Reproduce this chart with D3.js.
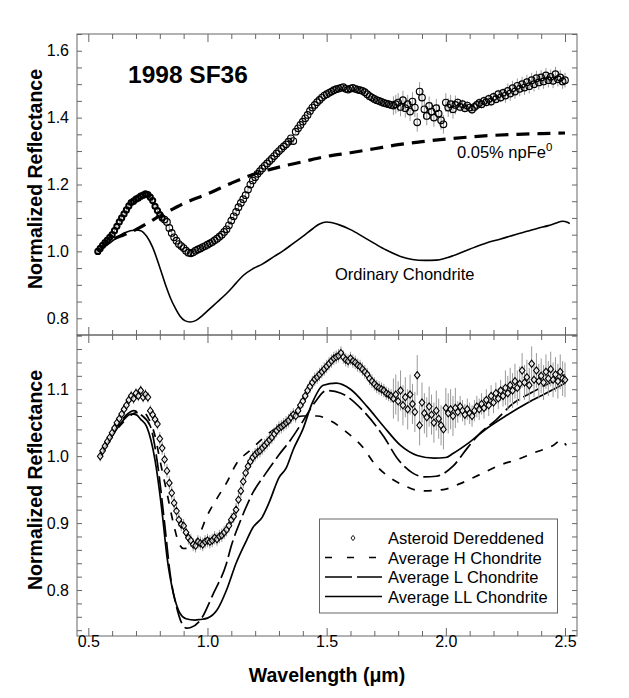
<!DOCTYPE html>
<html><head><meta charset="utf-8">
<script src="https://cdn.jsdelivr.net/npm/d3@7"></script>
<style>body{margin:0;background:#fff}svg{display:block;font-family:"Liberation Sans",Arial,Helvetica,sans-serif}</style>
</head><body><svg id="c" width="629" height="698"></svg>
<script>
// ---------- DATA ----------
const xTickLabels = [0.5, 1.0, 1.5, 2.0, 2.5];
const topYLabels = [0.8, 1.0, 1.2, 1.4, 1.6];
const botYLabels = [0.8, 0.9, 1.0, 1.1];

// Top panel: asteroid 1998 SF36 (wavelength µm, reflectance)
const topAsteroid = [[0.54,1.000],[0.55,1.009],[0.56,1.018],[0.57,1.026],[0.58,1.034],[0.59,1.042],[0.60,1.050],[0.61,1.062],[0.62,1.075],[0.63,1.088],[0.64,1.100],[0.65,1.112],[0.66,1.124],[0.67,1.136],[0.68,1.146],[0.69,1.150],[0.70,1.156],[0.71,1.160],[0.72,1.165],[0.73,1.168],[0.74,1.172],[0.75,1.170],[0.76,1.162],[0.77,1.152],[0.78,1.135],[0.79,1.122],[0.80,1.110],[0.81,1.100],[0.82,1.095],[0.83,1.088],[0.84,1.070],[0.85,1.055],[0.86,1.042],[0.87,1.032],[0.88,1.022],[0.89,1.016],[0.90,1.010],[0.91,1.002],[0.92,0.996],[0.93,0.994],[0.94,0.997],[0.95,1.002],[0.96,1.006],[0.97,1.009],[0.98,1.013],[0.99,1.016],[1.00,1.020],[1.01,1.024],[1.02,1.028],[1.03,1.033],[1.04,1.038],[1.05,1.044],[1.06,1.050],[1.07,1.058],[1.08,1.066],[1.09,1.078],[1.10,1.092],[1.11,1.105],[1.12,1.118],[1.13,1.132],[1.14,1.145],[1.15,1.156],[1.16,1.168],[1.17,1.185],[1.18,1.200],[1.19,1.212],[1.20,1.222],[1.21,1.232],[1.22,1.240],[1.23,1.248],[1.24,1.256],[1.25,1.263],[1.26,1.270],[1.27,1.277],[1.28,1.285],[1.29,1.293],[1.30,1.300],[1.31,1.307],[1.32,1.314],[1.33,1.320],[1.34,1.328],[1.35,1.338],[1.36,1.330],[1.37,1.358],[1.38,1.368],[1.39,1.378],[1.40,1.388],[1.41,1.398],[1.42,1.408],[1.43,1.420],[1.44,1.430],[1.45,1.438],[1.46,1.446],[1.47,1.453],[1.48,1.460],[1.49,1.466],[1.50,1.470],[1.51,1.474],[1.52,1.478],[1.53,1.482],[1.54,1.485],[1.55,1.487],[1.56,1.489],[1.57,1.491],[1.58,1.486],[1.59,1.484],[1.60,1.487],[1.61,1.489],[1.62,1.486],[1.63,1.484],[1.64,1.482],[1.65,1.480],[1.66,1.476],[1.67,1.470],[1.68,1.464],[1.69,1.460],[1.70,1.456],[1.71,1.452],[1.72,1.450],[1.73,1.447],[1.74,1.444],[1.75,1.442],[1.76,1.440],[1.77,1.438],[1.78,1.436],[1.79,1.440],[1.80,1.445],[1.81,1.432],[1.82,1.452],[1.83,1.428],[1.84,1.440],[1.85,1.418],[1.86,1.448],[1.87,1.430],[1.88,1.386],[1.89,1.478],[1.90,1.460],[1.91,1.425],[1.92,1.405],[1.93,1.435],[1.94,1.418],[1.95,1.400],[1.96,1.428],[1.97,1.412],[1.98,1.392],[1.99,1.380],[2.00,1.445],[2.01,1.430],[2.02,1.440],[2.03,1.425],[2.04,1.438],[2.05,1.445],[2.06,1.432],[2.07,1.440],[2.08,1.428],[2.09,1.436],[2.10,1.430],[2.11,1.424],[2.12,1.432],[2.13,1.438],[2.14,1.444],[2.15,1.440],[2.16,1.450],[2.17,1.446],[2.18,1.456],[2.19,1.448],[2.20,1.462],[2.21,1.455],[2.22,1.470],[2.23,1.460],[2.24,1.474],[2.25,1.466],[2.26,1.480],[2.27,1.472],[2.28,1.488],[2.29,1.478],[2.30,1.495],[2.31,1.486],[2.32,1.500],[2.33,1.490],[2.34,1.506],[2.35,1.494],[2.36,1.512],[2.37,1.500],[2.38,1.518],[2.39,1.505],[2.40,1.520],[2.41,1.508],[2.42,1.526],[2.43,1.512],[2.44,1.522],[2.45,1.510],[2.46,1.530],[2.47,1.515],[2.48,1.520],[2.49,1.508],[2.50,1.512]];
// error half-heights read by wavelength band [from, to, err]
const topErrBands = [[0.53,0.80,0.006],[0.80,1.00,0.008],[1.00,1.78,0.008],[1.78,2.05,0.028],[2.05,2.25,0.014],[2.25,2.51,0.022]];

// Top panel: 0.05% npFe0 model (thick dashed)
const npFeModel = [[0.54,1.000],[0.59,1.030],[0.65,1.050],[0.70,1.065],[0.75,1.085],[0.80,1.106],[0.85,1.125],[0.90,1.143],[1.00,1.172],[1.10,1.204],[1.20,1.232],[1.30,1.252],[1.40,1.268],[1.50,1.284],[1.60,1.295],[1.70,1.307],[1.80,1.319],[1.90,1.328],[2.00,1.336],[2.10,1.342],[2.20,1.347],[2.30,1.350],[2.40,1.352],[2.50,1.354]];

// Top panel: Ordinary Chondrite (solid)
const ordChondrite = [[0.54,1.000],[0.59,1.025],[0.65,1.055],[0.70,1.064],[0.72,1.062],[0.745,1.045],[0.77,1.012],[0.80,0.952],[0.825,0.898],[0.845,0.860],[0.865,0.830],[0.885,0.806],[0.905,0.793],[0.927,0.789],[0.95,0.793],[0.975,0.806],[1.00,0.822],[1.04,0.848],[1.08,0.874],[1.12,0.905],[1.15,0.928],[1.19,0.948],[1.23,0.962],[1.28,0.985],[1.32,1.003],[1.36,1.024],[1.40,1.045],[1.44,1.067],[1.47,1.082],[1.50,1.088],[1.55,1.080],[1.60,1.065],[1.65,1.045],[1.70,1.024],[1.75,1.004],[1.81,0.985],[1.86,0.976],[1.91,0.973],[1.96,0.974],[2.00,0.980],[2.06,0.995],[2.12,1.012],[2.17,1.025],[2.23,1.037],[2.29,1.050],[2.34,1.060],[2.39,1.070],[2.43,1.077],[2.46,1.084],[2.49,1.090],[2.51,1.087],[2.52,1.083]];

// Bottom panel: asteroid dereddened (diamonds)
const botAsteroid = [[0.55,1.000],[0.56,1.008],[0.57,1.015],[0.58,1.022],[0.59,1.028],[0.60,1.035],[0.61,1.042],[0.62,1.050],[0.63,1.056],[0.64,1.063],[0.65,1.070],[0.66,1.076],[0.67,1.084],[0.68,1.090],[0.69,1.086],[0.70,1.094],[0.71,1.090],[0.72,1.098],[0.73,1.088],[0.74,1.092],[0.75,1.088],[0.76,1.068],[0.77,1.062],[0.78,1.055],[0.79,1.048],[0.80,1.026],[0.81,1.012],[0.82,0.995],[0.83,0.978],[0.84,0.960],[0.85,0.945],[0.86,0.930],[0.87,0.918],[0.88,0.905],[0.89,0.898],[0.90,0.896],[0.91,0.886],[0.92,0.878],[0.93,0.874],[0.94,0.868],[0.95,0.866],[0.96,0.872],[0.97,0.870],[0.98,0.868],[0.99,0.872],[1.00,0.874],[1.01,0.872],[1.02,0.874],[1.03,0.878],[1.04,0.876],[1.05,0.880],[1.06,0.882],[1.07,0.886],[1.08,0.890],[1.09,0.896],[1.10,0.905],[1.11,0.910],[1.12,0.920],[1.13,0.935],[1.14,0.948],[1.15,0.962],[1.16,0.975],[1.17,0.985],[1.18,0.992],[1.19,0.998],[1.20,1.002],[1.21,1.006],[1.22,1.008],[1.23,1.012],[1.24,1.016],[1.25,1.020],[1.26,1.024],[1.27,1.028],[1.28,1.033],[1.29,1.038],[1.30,1.042],[1.31,1.044],[1.32,1.047],[1.33,1.050],[1.34,1.053],[1.35,1.058],[1.36,1.062],[1.37,1.060],[1.38,1.068],[1.39,1.076],[1.40,1.082],[1.41,1.090],[1.42,1.098],[1.43,1.104],[1.44,1.110],[1.45,1.115],[1.46,1.118],[1.47,1.122],[1.48,1.126],[1.49,1.130],[1.50,1.134],[1.51,1.138],[1.52,1.142],[1.53,1.146],[1.54,1.148],[1.55,1.150],[1.56,1.154],[1.57,1.148],[1.58,1.144],[1.59,1.142],[1.60,1.146],[1.61,1.142],[1.62,1.140],[1.63,1.136],[1.64,1.134],[1.65,1.130],[1.66,1.126],[1.67,1.122],[1.68,1.116],[1.69,1.112],[1.70,1.108],[1.71,1.104],[1.72,1.102],[1.73,1.100],[1.74,1.098],[1.75,1.094],[1.76,1.092],[1.77,1.090],[1.78,1.086],[1.79,1.092],[1.80,1.082],[1.81,1.098],[1.82,1.076],[1.83,1.088],[1.84,1.070],[1.85,1.092],[1.86,1.078],[1.87,1.066],[1.88,1.121],[1.89,1.046],[1.90,1.080],[1.91,1.064],[1.92,1.058],[1.93,1.074],[1.94,1.062],[1.95,1.050],[1.96,1.068],[1.97,1.056],[1.98,1.046],[1.99,1.040],[2.00,1.072],[2.01,1.064],[2.02,1.070],[2.03,1.060],[2.04,1.072],[2.05,1.066],[2.06,1.074],[2.07,1.068],[2.08,1.062],[2.09,1.070],[2.10,1.064],[2.11,1.060],[2.12,1.068],[2.13,1.074],[2.14,1.070],[2.15,1.078],[2.16,1.072],[2.17,1.084],[2.18,1.076],[2.19,1.090],[2.20,1.080],[2.21,1.094],[2.22,1.086],[2.23,1.098],[2.24,1.090],[2.25,1.102],[2.26,1.094],[2.27,1.106],[2.28,1.098],[2.29,1.112],[2.30,1.102],[2.31,1.108],[2.32,1.128],[2.33,1.110],[2.34,1.118],[2.35,1.106],[2.36,1.138],[2.37,1.114],[2.38,1.128],[2.39,1.112],[2.40,1.120],[2.41,1.110],[2.42,1.126],[2.43,1.116],[2.44,1.130],[2.45,1.114],[2.46,1.122],[2.47,1.112],[2.48,1.126],[2.49,1.116],[2.50,1.114]];
const botErrBands = [[0.54,0.80,0.008],[0.80,1.00,0.010],[1.00,1.78,0.010],[1.78,2.05,0.030],[2.05,2.25,0.016],[2.25,2.51,0.026]];

// Bottom panel: meteorite averages
const hChondrite = [[0.55,1.000],[0.60,1.030],[0.65,1.052],[0.70,1.065],[0.73,1.066],[0.75,1.058],[0.78,1.030],[0.80,0.995],[0.83,0.945],[0.86,0.895],[0.88,0.870],[0.90,0.862],[0.93,0.863],[0.96,0.878],[1.00,0.912],[1.04,0.937],[1.08,0.960],[1.12,0.988],[1.18,1.009],[1.25,1.032],[1.30,1.045],[1.35,1.055],[1.40,1.060],[1.46,1.060],[1.52,1.052],[1.59,1.034],[1.65,1.014],[1.70,0.989],[1.75,0.972],[1.82,0.957],[1.90,0.948],[1.99,0.950],[2.06,0.959],[2.14,0.972],[2.23,0.987],[2.30,0.995],[2.37,1.005],[2.45,1.016],[2.485,1.024],[2.505,1.016]];
const lChondrite = [[0.55,1.000],[0.60,1.032],[0.65,1.058],[0.69,1.068],[0.72,1.062],[0.76,1.045],[0.79,0.990],[0.82,0.900],[0.845,0.820],[0.87,0.775],[0.89,0.752],[0.913,0.743],[0.93,0.744],[0.97,0.755],[1.025,0.795],[1.08,0.840],[1.10,0.866],[1.14,0.905],[1.19,0.945],[1.24,0.972],[1.30,1.002],[1.35,1.025],[1.40,1.052],[1.45,1.080],[1.50,1.098],[1.56,1.094],[1.65,1.069],[1.74,1.029],[1.80,0.995],[1.86,0.975],[1.91,0.969],[1.96,0.970],[2.03,0.985],[2.09,1.012],[2.14,1.033],[2.21,1.054],[2.28,1.078],[2.36,1.095],[2.45,1.112],[2.50,1.122]];
const llChondrite = [[0.55,1.000],[0.60,1.030],[0.65,1.055],[0.68,1.063],[0.70,1.062],[0.72,1.055],[0.745,1.044],[0.78,0.994],[0.81,0.915],[0.83,0.850],[0.857,0.795],[0.885,0.765],[0.91,0.757],[0.948,0.755],[0.97,0.756],[1.00,0.758],[1.04,0.770],[1.08,0.800],[1.12,0.840],[1.165,0.875],[1.19,0.893],[1.23,0.909],[1.26,0.932],[1.30,0.968],[1.33,0.982],[1.36,1.010],[1.40,1.040],[1.44,1.080],[1.486,1.106],[1.54,1.109],[1.60,1.100],[1.67,1.074],[1.74,1.044],[1.81,1.016],[1.88,1.001],[1.95,0.997],[2.00,0.998],[2.03,1.004],[2.10,1.021],[2.17,1.041],[2.255,1.061],[2.34,1.079],[2.42,1.094],[2.50,1.109]];

const legendLabels = ["Asteroid Dereddened","Average H Chondrite","Average L Chondrite","Average LL Chondrite"];

// ---------- DRAWING ----------
const svg = d3.select('#c');
const L = 77, R = 577;
const x = d3.scaleLinear().domain([0.4526, 2.5503]).range([L, R]);
const yTop = d3.scaleLinear().domain([0.75, 1.65]).range([335, 34]);
const yBot = d3.scaleLinear().domain([0.7313, 1.181]).range([636, 335]);
const frameCol = "#666";

function errFor(bands, w){ for (const b of bands) if (w>=b[0] && w<b[1]) return b[2]; return 0.01; }
const xMinor = d3.range(5, 26).map(d => d/10);

function drawFrame(y, top, bottom, yStep, yMajor){
  const g = svg.append('g');
  const yTicks = [];
  const [d0,d1] = y.domain();
  for (let v = Math.ceil(d0/yStep - 1e-6)*yStep; v <= d1 + 1e-9; v += yStep) yTicks.push(+v.toFixed(3));
  const isMajX = v => Math.abs(v*2 - Math.round(v*2)) < 1e-6;
  g.append('g').attr('transform',`translate(0,${bottom})`)
    .call(d3.axisBottom(x).tickValues(xMinor).tickSizeInner(-5).tickSizeOuter(0).tickFormat(''))
    .call(a => a.selectAll('.tick line').attr('y2', d => isMajX(d) ? -8 : -5));
  g.append('g').attr('transform',`translate(0,${top})`)
    .call(d3.axisTop(x).tickValues(xMinor).tickSizeInner(-5).tickSizeOuter(0).tickFormat(''))
    .call(a => a.selectAll('.tick line').attr('y2', d => isMajX(d) ? 8 : 5));
  g.append('g').attr('transform',`translate(${L},0)`)
    .call(d3.axisLeft(y).tickValues(yTicks).tickSizeInner(-5).tickSizeOuter(0).tickFormat(''));
  g.append('g').attr('transform',`translate(${R},0)`)
    .call(d3.axisRight(y).tickValues(yTicks).tickSizeInner(-5).tickSizeOuter(0).tickFormat(''));
  g.selectAll('.domain').remove();
  g.selectAll('.tick line').attr('stroke', frameCol);
  const lab = svg.append('g').attr('transform',`translate(${L},0)`)
    .call(d3.axisLeft(y).tickValues(yMajor).tickSize(0).tickPadding(8).tickFormat(d3.format('.1f')));
  lab.select('.domain').remove();
  lab.selectAll('text').attr('font-size', 16).attr('fill','#000').attr('font-family','"Liberation Sans",Arial,sans-serif');
  svg.append('rect').attr('x', L).attr('y', top).attr('width', R-L).attr('height', bottom-top)
    .attr('fill','none').attr('stroke', frameCol).attr('stroke-width', 1);
}

drawFrame(yTop, 34, 335, 0.05, topYLabels);
drawFrame(yBot, 335, 636, 0.02, botYLabels);

const xl = svg.append('g').attr('transform','translate(0,636)')
  .call(d3.axisBottom(x).tickValues(xTickLabels).tickSize(0).tickPadding(0).tickFormat(d3.format('.1f')));
xl.select('.domain').remove();
xl.selectAll('text').attr('font-size', 16).attr('fill','#000').attr('font-family','"Liberation Sans",Arial,sans-serif');

svg.append('text').attr('x', 327).attr('y', 682).attr('text-anchor','middle')
  .attr('font-size', 19.5).attr('font-weight','bold').text('Wavelength (\u03BCm)');
[[179],[480]].forEach(([cy]) => {
  svg.append('text').attr('transform',`translate(42,${cy}) rotate(-90)`).attr('text-anchor','middle')
    .attr('font-size', 19.5).attr('font-weight','bold').text('Normalized Reflectance');
});

// ----- top panel -----
const lineTop = d3.line().x(d => x(d[0])).y(d => yTop(d[1])).curve(d3.curveMonotoneX);
const lineBot = d3.line().x(d => x(d[0])).y(d => yBot(d[1])).curve(d3.curveMonotoneX);

svg.append('path').datum(ordChondrite).attr('d', lineTop).attr('fill','none').attr('stroke','#000').attr('stroke-width',1.6);
svg.append('path').datum(npFeModel).attr('d', lineTop).attr('fill','none').attr('stroke','#000').attr('stroke-width',3.2).attr('stroke-dasharray','13,8');

svg.append('g').selectAll('line').data(topAsteroid).join('line')
  .attr('x1', d => x(d[0])).attr('x2', d => x(d[0]))
  .attr('y1', d => yTop(d[1] - errFor(topErrBands, d[0]))).attr('y2', d => yTop(d[1] + errFor(topErrBands, d[0])))
  .attr('stroke','#999').attr('stroke-width',1);
svg.append('g').selectAll('circle').data(topAsteroid).join('circle')
  .attr('cx', d => x(d[0])).attr('cy', d => yTop(d[1])).attr('r', d => d[0] < 0.82 ? 2.6 : 3.3)
  .attr('fill','none').attr('stroke','#000').attr('stroke-width', d => d[0] < 0.82 ? 2 : 1.15);

svg.append('text').attr('x', 128).attr('y', 83).attr('font-size', 24.5).attr('font-weight','bold').text('1998 SF36');
const np = svg.append('text').attr('x', 457).attr('y', 158).attr('font-size', 16.5);
np.append('tspan').text('0.05% npFe');
np.append('tspan').attr('dy', -7).attr('font-size', 11.5).text('0');
svg.append('text').attr('x', 335).attr('y', 280).attr('font-size', 16.5).text('Ordinary Chondrite');

// ----- bottom panel -----
svg.append('path').datum(hChondrite).attr('d', lineBot).attr('fill','none').attr('stroke','#000').attr('stroke-width',1.7).attr('stroke-dasharray','8,9');
svg.append('path').datum(lChondrite).attr('d', lineBot).attr('fill','none').attr('stroke','#000').attr('stroke-width',1.7).attr('stroke-dasharray','17,5');
svg.append('path').datum(llChondrite).attr('d', lineBot).attr('fill','none').attr('stroke','#000').attr('stroke-width',1.7);

svg.append('g').selectAll('line').data(botAsteroid).join('line')
  .attr('x1', d => x(d[0])).attr('x2', d => x(d[0]))
  .attr('y1', d => yBot(d[1] - errFor(botErrBands, d[0]))).attr('y2', d => yBot(d[1] + errFor(botErrBands, d[0])))
  .attr('stroke','#999').attr('stroke-width',1);
const diamond = 'M0,-3.6L2.8,0L0,3.6L-2.8,0Z';
svg.append('g').selectAll('path').data(botAsteroid).join('path')
  .attr('d', diamond).attr('transform', d => `translate(${x(d[0])},${yBot(d[1])})`)
  .attr('fill','#fff').attr('fill-opacity',0.6).attr('stroke','#000').attr('stroke-width',1.1);

// legend
const lg = svg.append('g');
lg.append('rect').attr('x', 319.5).attr('y', 519).attr('width', 238).attr('height', 94)
  .attr('fill','#fff').attr('stroke', frameCol).attr('stroke-width',1);
const rowY = [544, 563.5, 583, 602.5];
lg.append('path').attr('d', 'M0,-2.6L2,0L0,2.6L-2,0Z').attr('transform',`translate(353,${rowY[0]-6})`)
  .attr('fill','none').attr('stroke','#000').attr('stroke-width',0.9);
const legDash = [null, '7,15', '27,5', null];
[1,2,3].forEach(i => {
  lg.append('line').attr('x1', 325).attr('x2', 382).attr('y1', rowY[i]-6).attr('y2', rowY[i]-6)
    .attr('stroke','#000').attr('stroke-width',1.6).attr('stroke-dasharray', legDash[i]);
});
legendLabels.forEach((t,i) => {
  lg.append('text').attr('x', 388).attr('y', rowY[i]).attr('font-size', 16.5).text(t);
});
</script></body></html>
